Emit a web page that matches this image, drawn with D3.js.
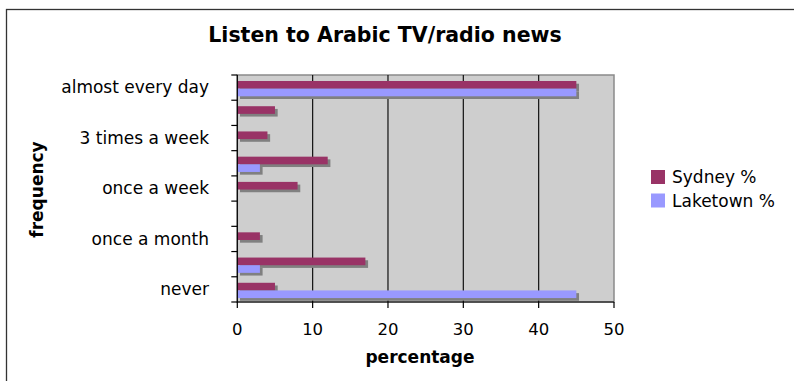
<!DOCTYPE html>
<html><head><meta charset="utf-8">
<script src="https://cdn.jsdelivr.net/npm/d3@7"></script>
<style>body{margin:0;background:#fff;} svg{display:block;font-family:"DejaVu Sans",Verdana,sans-serif;}</style>
</head><body>
<script>
const categories = ["almost every day","4-5 times a week","3 times a week","twice a week","once a week","2-3 times a month","once a month","rarely","never"];
const shownLabels = ["almost every day","3 times a week","once a week","once a month","never"];
const sydney = [45,5,4,12,8,0,3,17,5];
const laketown = [45,0,0,3,0,0,0,3,45];
const seriesNames = ["Sydney %","Laketown %"];
const xTicks = [0,10,20,30,40,50];

const W=794,H=381;
const svg=d3.select("body").append("svg").attr("width",W).attr("height",H);
svg.append("rect").attr("width",W).attr("height",H).attr("fill","#fff");
svg.append("rect").attr("x",6.5).attr("y",9.5).attr("width",W).attr("height",H)
  .attr("fill","none").attr("stroke","#333").attr("stroke-width",1.3);

const L=237.3,R=614,T=75,B=302;
const x=d3.scaleLinear().domain([0,50]).range([L,R]);
const y=d3.scaleBand().domain(categories).range([T,B]);
const sub=d3.scaleBand().domain(seriesNames).range([6,6+15.3]);
const colors={"Sydney %":"#993366","Laketown %":"#9999ff"};

svg.append("rect").attr("x",L).attr("y",T).attr("width",R-L).attr("height",B-T)
  .attr("fill","#cecece").attr("stroke","#8a8a8a").attr("stroke-width",1.5);
// gridlines
svg.selectAll(".grid").data(xTicks.slice(1,-1)).enter().append("line")
  .attr("x1",d=>x(d)).attr("x2",d=>x(d)).attr("y1",T).attr("y2",B)
  .attr("stroke","#111").attr("stroke-width",1.2);

const rows=[];
categories.forEach((c,i)=>{
  rows.push({cat:c,s:"Sydney %",v:sydney[i]});
  rows.push({cat:c,s:"Laketown %",v:laketown[i]});
});
const bars=rows.filter(d=>d.v>0);
const bh=sub.bandwidth();
// shadows
svg.selectAll(".sh").data(bars).enter().append("rect")
  .attr("x",x(0)+2.7).attr("y",d=>y(d.cat)+sub(d.s)+2.7)
  .attr("width",d=>x(d.v)-x(0)).attr("height",bh).attr("fill","#808080");
svg.selectAll(".bar").data(bars).enter().append("rect")
  .attr("x",x(0)).attr("y",d=>y(d.cat)+sub(d.s))
  .attr("width",d=>x(d.v)-x(0)).attr("height",bh).attr("fill",d=>colors[d.s]);

// y axis
const ya=svg.append("g");
ya.append("line").attr("x1",L).attr("x2",L).attr("y1",T).attr("y2",B+0.5).attr("stroke","#000").attr("stroke-width",1.2);
const bounds=categories.map(c=>y(c)).concat([B]);
ya.selectAll(".yt").data(bounds).enter().append("line")
  .attr("x1",L-6).attr("x2",L).attr("y1",d=>d).attr("y2",d=>d).attr("stroke","#000").attr("stroke-width",1.2);
ya.selectAll(".yl").data(categories.filter(c=>shownLabels.includes(c))).enter().append("text")
  .attr("x",209).attr("y",d=>y(d)+y.bandwidth()/2).attr("dy","0.33em")
  .attr("text-anchor","end").attr("font-size",17).attr("fill","#000").text(d=>d);

// x axis
const xa=svg.append("g");
xa.append("line").attr("x1",L).attr("x2",R).attr("y1",B).attr("y2",B).attr("stroke","#000").attr("stroke-width",1.2);
xa.selectAll(".xt").data(xTicks).enter().append("line")
  .attr("x1",d=>x(d)).attr("x2",d=>x(d)).attr("y1",B).attr("y2",B+6).attr("stroke","#000").attr("stroke-width",1.2);
xa.selectAll(".xl").data(xTicks).enter().append("text")
  .attr("x",d=>x(d)).attr("y",335).attr("text-anchor","middle").attr("font-size",16.5).attr("fill","#000").text(d=>d);

svg.append("text").attr("x",420).attr("y",363).attr("text-anchor","middle")
  .attr("font-size",17).attr("font-weight","bold").text("percentage");
svg.append("text").attr("transform","translate(43,189.5) rotate(-90)").attr("text-anchor","middle")
  .attr("font-size",17).attr("font-weight","bold").text("frequency");
svg.append("text").attr("x",385).attr("y",42).attr("text-anchor","middle")
  .attr("font-size",20.5).attr("font-weight","bold").text("Listen to Arabic TV/radio news");

// legend
const lg=svg.append("g");
seriesNames.forEach((s,i)=>{
  lg.append("rect").attr("x",651).attr("y",170+i*23.5).attr("width",14).attr("height",14).attr("fill",colors[s]);
  lg.append("text").attr("x",672).attr("y",183.3+i*23.5).attr("font-size",17).text(s);
});
</script>
</body></html>
